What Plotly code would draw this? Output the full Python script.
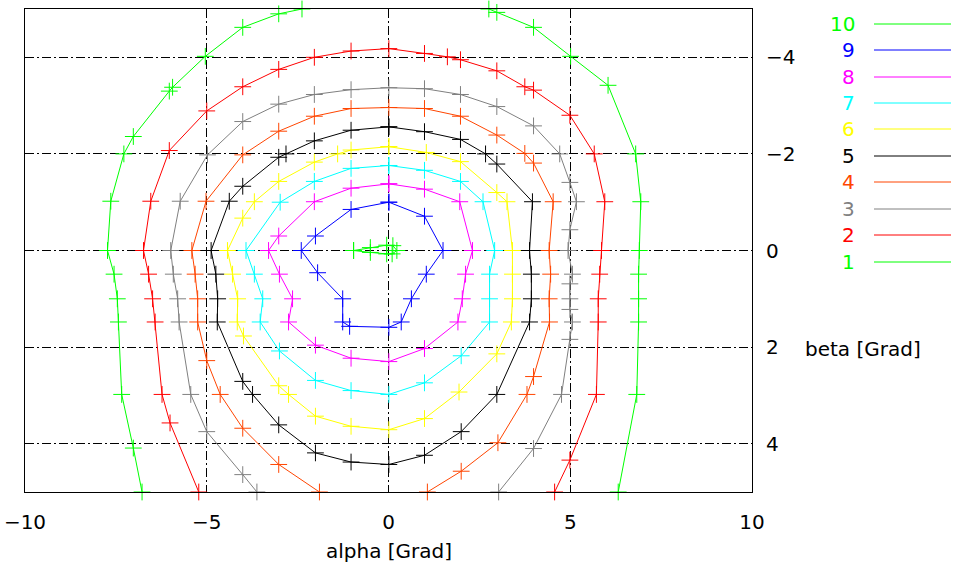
import plotly.graph_objects as go

# ---- data: contour lines (alpha [Grad], beta [Grad]) ----
levels = ["10", "9", "8", "7", "6", "5", "4", "3", "2", "1"]
level_colors = {"10": "#00ff00", "9": "#0000ff", "8": "#ff00ff", "7": "#00ffff",
                "6": "#ffff00", "5": "#000000", "4": "#ff4500", "3": "#808080",
                "2": "#ff0000", "1": "#00ff00"}

c1_alpha = [-2.38, -3.02, -4.01, -5.04, -5.94, -6.03, -7.02, -7.28, -7.64, -7.73, -7.55, -7.46, -7.43, -7.34, -7.02, -6.78,
            None,
            2.76, 2.98, 3.99, 5.01, 6.04, 6.80, 6.94, 6.90, 6.88, 6.88, 6.88, 6.83, 6.32]
c1_beta = [-5.0, -4.90, -4.62, -4.02, -3.38, -3.30, -2.36, -2.0, -1.02, 0.0, 0.49, 1.0, 1.48, 2.98, 4.09, 5.0,
           None,
           -5.0, -4.93, -4.62, -4.02, -3.42, -2.0, -1.01, 0.0, 0.49, 1.0, 1.48, 2.98, 5.0]

c2_alpha = [-5.22, -6.01, -6.23, -6.42, -6.49, -6.60, -6.74, -6.54, -6.03, -5.0, -4.01, -3.02, -2.04, -1.03, 0.01,
            0.99, 1.62, 1.98, 2.98, 3.75, 3.99, 4.99, 5.66, 5.95, 5.86, 5.81, 5.77, 5.77, 5.72, 4.99, 4.57]
c2_beta = [5.0, 3.57, 2.98, 1.48, 1.0, 0.49, 0.0, -1.02, -2.07, -2.89, -3.39, -3.75, -4.0, -4.13, -4.18,
           -4.08, -4.01, -3.95, -3.72, -3.39, -3.32, -2.80, -2.0, -1.01, 0.0, 0.49, 1.0, 1.48, 2.98, 4.34, 5.0]

c3_alpha = [-3.62, -4.01, -5.0, -5.44, -5.76, -5.80, -5.92, -5.99, -5.73, -4.98, -4.01, -3.02, -2.04, -1.03, 0.01,
            0.99, 1.98, 2.98, 3.99, 4.71, 4.99, 5.17, 4.99, 4.94, 5.06, 4.99, 4.99, 4.99, 5.06, 4.99, 4.76, 3.99, 3.03]
c3_beta = [5.0, 4.64, 3.75, 2.98, 1.48, 1.0, 0.49, 0.0, -1.02, -1.98, -2.67, -3.03, -3.23, -3.33, -3.37,
           -3.35, -3.23, -2.98, -2.58, -2.0, -1.41, -1.01, -0.43, 0.0, 0.49, 0.69, 1.0, 1.22, 1.48, 1.84, 2.98, 4.10, 5.0]

c4_alpha = [-1.9, -3.02, -4.01, -4.63, -5.0, -5.25, -5.25, -5.32, -5.41, -5.02, -4.01, -3.02, -2.04, -1.03, 0.01,
            0.99, 1.98, 2.98, 3.75, 3.99, 4.53, 4.42, 4.46, 4.42, 4.43, 3.99, 3.81, 3.01, 2.0, 1.07]
c4_beta = [5.0, 4.43, 3.68, 2.98, 2.28, 1.48, 1.0, 0.49, 0.0, -1.02, -1.98, -2.47, -2.78, -2.94, -2.96,
           -2.94, -2.78, -2.39, -2.01, -1.81, -1.01, 0.0, 0.49, 1.0, 1.48, 2.61, 2.98, 3.98, 4.57, 5.0]

c5_alpha = [0.01, -1.03, -2.04, -2.82, -3.02, -4.01, -4.38, -4.88, -4.75, -4.70, -4.71, -4.01, -3.74, -3.02, -2.01,
            -1.03, 0.01, 0.99, 2.0, 2.98, 3.88, 3.93, 3.93, 3.88, 3.96, 2.98, 2.67, 1.98, 0.99, 0.01]
c5_beta = [-2.56, -2.49, -2.27, -2.0, -1.93, -1.33, -1.02, 0.0, 0.49, 1.0, 1.48, 2.71, 2.98, 3.61, 4.19,
           4.38, 4.43, 4.24, 3.75, 2.98, 1.48, 1.0, 0.49, 0.0, -1.01, -1.79, -2.0, -2.30, -2.46, -2.56]

c6_alpha = [0.01, -1.03, -1.40, -2.04, -3.02, -3.69, -4.01, -4.43, -4.29, -4.15, -4.16, -3.99, -3.02, -2.75, -2.01,
            -1.03, 0.01, 0.99, 1.94, 2.98, 3.38, 3.41, 3.41, 3.41, 3.26, 2.98, 1.98, 1.04, 0.01]
c6_beta = [-2.15, -2.08, -2.0, -1.83, -1.43, -1.01, -0.67, 0.0, 0.49, 1.0, 1.48, 1.77, 2.80, 2.98, 3.43,
           3.64, 3.71, 3.48, 2.93, 2.14, 1.48, 1.0, 0.49, 0.0, -1.01, -1.20, -1.84, -2.03, -2.15]

c7_alpha = [0.01, -1.03, -2.04, -2.98, -3.92, -3.69, -3.46, -3.53, -3.0, -2.01, -1.03, 0.01, 0.99, 2.0, 2.78,
            2.78, 2.78, 2.92, 2.60, 1.98, 0.99, 0.01]
c7_beta = [-1.76, -1.70, -1.43, -1.0, 0.0, 0.49, 1.0, 1.48, 2.08, 2.69, 2.90, 2.98, 2.74, 2.18, 1.48,
           1.0, 0.49, 0.0, -1.01, -1.43, -1.66, -1.76]

c8_alpha = [0.01, -1.03, -2.04, -3.02, -3.30, -3.0, -2.64, -2.75, -2.01, -1.03, 0.01, 0.99, 1.91, 2.03, 2.12,
            2.31, 1.96, 0.99, 0.01]
c8_beta = [-1.38, -1.29, -1.01, -0.30, 0.0, 0.49, 1.0, 1.48, 1.96, 2.23, 2.30, 2.03, 1.48, 1.0, 0.49,
           0.0, -1.01, -1.27, -1.38]

c9_alpha = [0.01, -1.03, -2.01, -2.40, -1.95, -1.26, -1.26, -1.07, 0.01, 0.35, 0.63, 1.04, 1.50, 0.99, 0.01]
c9_beta = [-1.0, -0.85, -0.30, 0.0, 0.46, 1.0, 1.48, 1.57, 1.59, 1.48, 1.0, 0.49, 0.0, -0.71, -1.0]

c10_alpha = [-0.96, -0.5, -0.05, 0.12, 0.23, 0.1, -0.05, -0.5, -0.96]
c10_beta = [0.0, -0.06, -0.11, -0.1, 0.0, 0.07, 0.07, 0.04, 0.0]

contours = {"1": (c1_alpha, c1_beta), "2": (c2_alpha, c2_beta), "3": (c3_alpha, c3_beta),
            "4": (c4_alpha, c4_beta), "5": (c5_alpha, c5_beta), "6": (c6_alpha, c6_beta),
            "7": (c7_alpha, c7_beta), "8": (c8_alpha, c8_beta), "9": (c9_alpha, c9_beta),
            "10": (c10_alpha, c10_beta)}

x_ticks = [-10, -5, 0, 5, 10]
y_ticks = [-4, -2, 0, 2, 4]

FONT = "DejaVu Sans"
W, H = 954, 570
L, T = 25, 9
PLOT_R, PLOT_B = 752, 492
R, B = W - PLOT_R, H - PLOT_B
PW, PH = PLOT_R - L, PLOT_B - T


def px2paper_x(px):
    return (px - L) / PW


def py2paper_y(py):
    return (PLOT_B - py) / PH


fig = go.Figure()
for lev in ["1", "2", "3", "4", "5", "6", "7", "8", "9", "10"]:
    a, b = contours[lev]
    col = level_colors[lev]
    fig.add_trace(go.Scatter(
        x=a, y=b, mode="lines+markers", name=lev,
        line=dict(color=col, width=1),
        marker=dict(symbol="cross-thin-open", size=12, line=dict(color=col, width=1)),
        cliponaxis=False, connectgaps=False, showlegend=False, hoverinfo="skip"))

grid_dash = "9px,3px,2px,3px"


def fmt(v):
    return str(v).replace("-", "\u2212")


fig.update_layout(
    width=W, height=H,
    margin=dict(l=L, r=R, t=T, b=B, pad=0, autoexpand=False),
    paper_bgcolor="white", plot_bgcolor="white",
    font=dict(family=FONT, size=20, color="black"),
    showlegend=False,
    xaxis=dict(range=[-10, 10], tickvals=x_ticks, ticktext=[fmt(v) for v in x_ticks],
               showgrid=True, gridcolor="black", gridwidth=1, griddash=grid_dash,
               zeroline=False, showline=True, mirror=True, linecolor="black", linewidth=1,
               ticks="", ticklabelstandoff=12, ticklabeloverflow="allow", automargin=False,
               tickfont=dict(family=FONT, size=20)),
    yaxis=dict(range=[5, -5], side="right", tickvals=y_ticks, ticktext=[fmt(v) for v in y_ticks],
               showgrid=True, gridcolor="black", gridwidth=1, griddash=grid_dash,
               zeroline=False, showline=True, mirror=True, linecolor="black", linewidth=1,
               ticks="", ticklabelstandoff=9, ticklabeloverflow="allow", automargin=False,
               tickfont=dict(family=FONT, size=20)),
)

annotations = [
    dict(text="alpha [Grad]", x=0.5, y=py2paper_y(551), xref="paper", yref="paper",
         xanchor="center", yanchor="middle", showarrow=False, font=dict(family=FONT, size=20)),
    dict(text="beta [Grad]", x=px2paper_x(803), y=py2paper_y(349), xref="paper", yref="paper",
         xanchor="left", yanchor="middle", showarrow=False, font=dict(family=FONT, size=20)),
]
shapes = []
legend_y = [24, 50, 77, 103, 129, 156, 182, 209, 235, 262]
for lev, py in zip(levels, legend_y):
    col = level_colors[lev]
    annotations.append(dict(text=lev, x=px2paper_x(857), y=py2paper_y(py), xref="paper", yref="paper",
                            xanchor="right", yanchor="middle", showarrow=False,
                            font=dict(family=FONT, size=20, color=col)))
    shapes.append(dict(type="line", xref="paper", yref="paper",
                       x0=px2paper_x(874), x1=px2paper_x(951), y0=py2paper_y(py), y1=py2paper_y(py),
                       line=dict(color=col, width=1)))
fig.update_layout(annotations=annotations, shapes=shapes)

fig.write_html("out.html", config={"displayModeBar": False},
               post_script="document.body.style.margin='0';document.body.style.overflow='hidden';")
